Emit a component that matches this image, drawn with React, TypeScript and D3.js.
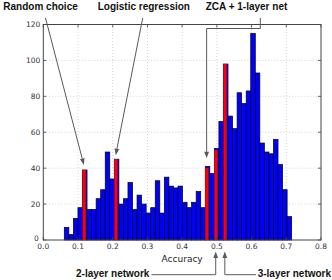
import React from 'react';
import * as d3 from 'd3';

// histogram of accuracies, 50 bins
const binStart = 0.0605;
const binWidth = 0.0131;
const binCounts = [
  7, 3, 12, 18, 39, 17, 17, 23, 28, 49,
  34, 45, 20, 23, 32, 17, 25, 20, 15, 18,
  33, 15, 35, 30, 29, 30, 21, 18, 21, 27,
  18, 41, 37, 51, 66, 98, 69, 62, 82, 76,
  83, 115, 93, 54, 49, 48, 56, 42, 28, 13,
];

// highlighted models (left edge accuracy, height)
const markedNames = ['Random choice', 'Logistic regression', 'ZCA + 1-layer net', '2-layer network', '3-layer network'];
const markedAcc = [0.113, 0.2046, 0.4666, 0.4928, 0.519];
const markedCounts = [39, 45, 40, 50, 98];

const xTicks = [0, 0.1, 0.2, 0.3, 0.4, 0.5, 0.6, 0.7, 0.8];
const yTicks = [0, 20, 40, 60, 80, 100, 120];

const W = 332;
const H = 280;
const margin = { left: 43.3, right: 11, top: 24.5, bottom: 40 };

const x = d3.scaleLinear().domain([0, 0.8]).range([margin.left, W - margin.right]);
const y = d3.scaleLinear().domain([0, 120]).range([H - margin.bottom, margin.top]);

const arrowCol = '#5a5a5a';
const labelFont = '"Liberation Sans", Arial, sans-serif';
const tickFont = '"DejaVu Sans", sans-serif';

const Arrow = ({ points }: { points: [number, number][] }) => {
  const line = d3.line();
  const [x1, y1] = points[points.length - 2];
  const [x2, y2] = points[points.length - 1];
  const ang = Math.atan2(y2 - y1, x2 - x1);
  const len = 6.5, half = 2.4;
  const bx = x2 - len * Math.cos(ang), by = y2 - len * Math.sin(ang);
  const head = [
    [x2, y2],
    [bx + half * Math.sin(ang), by - half * Math.cos(ang)],
    [bx - half * Math.sin(ang), by + half * Math.cos(ang)],
  ];
  return (
    <g>
      <path d={line([...points.slice(0, -1), [bx, by]]) || ''} fill="none" stroke={arrowCol} strokeWidth={1} />
      <path d={`M${head.map(p => p.join(',')).join('L')}Z`} fill={arrowCol} />
    </g>
  );
};

export default function App() {
  const x0 = x(0), x1 = x(0.8), y0 = y(0), y1 = y(120);
  const tip = (i: number, gap: number) =>
    [x(markedAcc[i] + binWidth * 0.3), y(binCounts[Math.round((markedAcc[i] - binStart) / binWidth)]) - gap] as [number, number];

  return (
    <svg width={W} height={H} style={{ position: 'absolute', left: 0, top: 0, background: '#fff' }}>
      {/* grid */}
      <g stroke="#c8c8c8" strokeWidth={0.8} strokeDasharray="1,2">
        {xTicks.slice(1, -1).map(t => (
          <line key={'gx' + t} x1={x(t)} x2={x(t)} y1={y0} y2={y1} />
        ))}
        {yTicks.slice(1, -1).map(t => (
          <line key={'gy' + t} x1={x0} x2={x1} y1={y(t)} y2={y(t)} />
        ))}
      </g>

      {/* bars */}
      <g>
        {binCounts.map((c, i) => (
          <rect
            key={i}
            x={x(binStart + i * binWidth)}
            y={y(c)}
            width={x(binWidth) - x(0)}
            height={y0 - y(c)}
            fill="#0000ff"
            stroke="#000"
            strokeWidth={0.7}
          />
        ))}
        {markedAcc.map((a, i) => (
          <rect
            key={'r' + i}
            x={x(a)}
            y={y(markedCounts[i])}
            width={x(binWidth * 0.7) - x(0)}
            height={y0 - y(markedCounts[i])}
            fill="#ff0000"
          />
        ))}
      </g>

      {/* frame and ticks */}
      <rect x={x0} y={y1} width={x1 - x0} height={y0 - y1} fill="none" stroke="#444" strokeWidth={1} />
      <g stroke="#444" strokeWidth={0.8}>
        {xTicks.map(t => (
          <g key={'tx' + t}>
            <line x1={x(t)} x2={x(t)} y1={y0} y2={y0 - 3} />
            <line x1={x(t)} x2={x(t)} y1={y1} y2={y1 + 3} />
          </g>
        ))}
        {yTicks.map(t => (
          <g key={'ty' + t}>
            <line x1={x0} x2={x0 + 3} y1={y(t)} y2={y(t)} />
            <line x1={x1} x2={x1 - 3} y1={y(t)} y2={y(t)} />
          </g>
        ))}
      </g>
      <g fontFamily={tickFont} fontSize={7.5} fill="#333">
        {xTicks.map(t => (
          <text key={'lx' + t} x={x(t)} y={y0 + 8.5} textAnchor="middle">
            {d3.format('.1f')(t)}
          </text>
        ))}
        {yTicks.map(t => (
          <text key={'ly' + t} x={x0 - (t === 0 ? 4.5 : 3)} y={y(t) + (t === 0 ? 0.5 : 2.7)} textAnchor="end">
            {t}
          </text>
        ))}
      </g>
      <text x={(x0 + x1) / 2} y={y0 + 22} textAnchor="middle" fontFamily={tickFont} fontSize={9} fill="#222">
        Accuracy
      </text>

      {/* annotations */}
      <g fontFamily={labelFont} fontWeight="bold" fontSize={10} fill="#111">
        <text x={3.3} y={10}>{markedNames[0]}</text>
        <text x={97.7} y={10}>{markedNames[1]}</text>
        <text x={205.7} y={10}>{markedNames[2]}</text>
        <text x={76} y={277}>{markedNames[3]}</text>
        <text x={257.7} y={277}>{markedNames[4]}</text>
      </g>
      <Arrow points={[[45.5, 18], tip(0, 5)]} />
      <Arrow points={[[142.7, 18], tip(1, 4)]} />
      <Arrow points={[[260.3, 18], [260.3, 28.5], [tip(2, 8)[0], 28.5], tip(2, 8)]} />
      <Arrow points={[[151.5, 274.7], [tip(3, 0)[0], 274.7], [tip(3, 0)[0], y0 + 11.5]]} />
      <Arrow points={[[256, 274.7], [tip(4, 0)[0], 274.7], [tip(4, 0)[0], y0 + 11.5]]} />
    </svg>
  );
}
